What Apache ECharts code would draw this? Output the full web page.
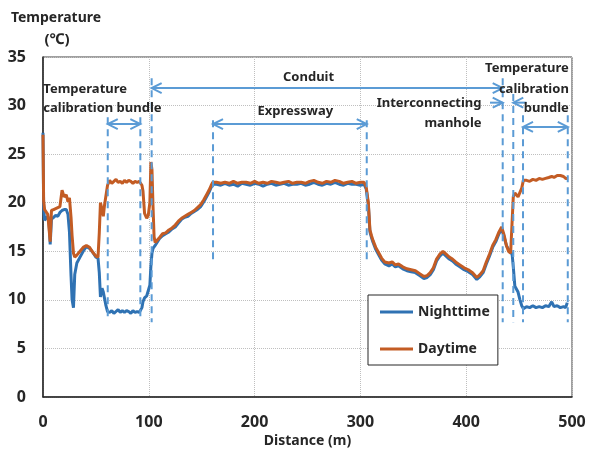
<!DOCTYPE html>
<html><head><meta charset="utf-8">
<script src="https://cdn.jsdelivr.net/npm/echarts@6/dist/echarts.min.js"></script>
<style>html,body{margin:0;padding:0;background:#fff}#c{width:589px;height:452px}</style>
</head><body><div id="c"></div><script>
// ---- data ----
const distance = [
  0, 0.6, 1.5, 3, 4.5, 5.5, 6.8, 8, 10, 12, 14, 16, 18, 20, 22, 23.6, 25, 26.5, 27.5, 28.8, 30, 32, 35, 38, 41, 44, 47, 50, 52, 53.2, 54.3, 55.8, 57, 58.2, 59.5, 61,
  63, 65, 67, 69, 71, 73, 75, 77, 79, 81, 83, 85, 87, 89, 91, 92.5,
  93.5, 94.5, 96, 98, 99.5, 101, 102, 103, 104, 105, 106, 107.5, 110,
  113, 116, 119, 122, 125, 128, 131, 134, 137, 140, 143, 146, 149, 152, 155, 157, 159, 160.5,
  164, 168, 172, 176, 180, 184, 188, 192, 196, 200, 204, 208, 212, 216, 220, 224, 228, 232, 236, 240, 244, 248, 252, 256, 260, 264, 268, 272, 276, 280, 284, 288, 292, 296, 300, 303.5,
  305.5, 307.5, 309, 310.5, 312, 314.5, 317, 320, 323, 327, 330, 333, 336, 340, 344, 348, 352, 356, 360, 363, 366, 369, 372, 375, 378, 381, 384, 387, 390, 394, 398, 402, 406, 410, 413, 416, 419, 422, 425, 428, 431, 433.5, 436, 438, 440, 442, 443.5,
  444.5, 446, 447.5, 449, 450.8, 452.5, 454, 457, 460, 463, 466, 469, 472, 475, 478, 480.8, 483, 486, 489, 492, 494, 495.5
];
const nighttime = [
  27.2, 19.5, 18.2, 18.4, 18.6, 18.3, 15.7, 18.3, 18.5, 18.7, 18.6, 19.0, 19.2, 19.3, 19.3, 18.8, 17.0, 12.5, 10.0, 9.2, 12.6, 13.8, 14.4, 15.0, 15.5, 15.3, 14.9, 14.4, 14.3, 12.8, 10.3, 11.2, 10.8, 10.9, 9.4, 8.8,
  8.7, 8.9, 8.6, 8.8, 9.0, 8.7, 8.9, 8.7, 8.9, 8.8, 8.6, 8.9, 8.7, 8.8, 8.7, 8.6,
  9.2, 9.8, 10.2, 10.4, 10.6, 11.5, 13.5, 14.8, 15.3, 15.5, 15.6, 15.8, 16.3,
  16.6, 16.8, 17.0, 17.3, 17.5, 17.9, 18.3, 18.5, 18.6, 18.9, 19.1, 19.3, 19.6, 20.1, 20.7, 21.1, 21.6, 21.9,
  21.9, 21.8, 22.0, 21.8, 21.9, 21.7, 22.0, 21.9, 21.8, 22.0, 21.9, 21.7, 21.9, 22.0, 21.8, 21.9, 22.0, 21.8, 21.9, 21.9, 22.0, 21.8, 21.9, 22.1, 21.9, 21.8, 22.0, 21.9, 22.1, 21.9, 21.8, 22.0, 21.9, 21.9, 21.8, 21.9,
  21.4, 19.8, 17.0, 16.4, 15.9, 15.2, 14.7, 14.1, 13.7, 13.5, 13.7, 13.4, 13.5, 13.2, 13.0, 12.9, 12.8, 12.5, 12.2, 12.3, 12.6, 13.1, 14.0, 14.5, 14.8, 14.5, 14.2, 14.0, 13.7, 13.4, 13.1, 12.9, 12.6, 12.1, 12.4, 12.8, 13.7, 14.5, 15.4, 16.0, 16.8, 17.3, 16.4, 15.6, 15.2, 15.0, 14.6,
  13.4, 11.4, 11.2, 10.8, 10.0, 9.4, 9.1, 9.3, 9.2, 9.4, 9.2, 9.3, 9.2, 9.4, 9.3, 9.8, 9.3, 9.4, 9.2, 9.3, 9.2, 9.7
];
const daytime = [
  27.0, 20.2, 19.3, 19.4, 18.8, 18.6, 16.0, 19.2, 19.3, 19.4, 19.5, 19.6, 21.3, 20.6, 20.8, 20.1, 20.5, 18.5, 16.6, 14.8, 14.4, 14.6, 15.0, 15.4, 15.6, 15.4, 14.9, 14.5, 14.4, 16.9, 20.0, 19.3, 18.6, 19.8, 19.6, 21.8,
  22.3, 22.0, 22.2, 22.4, 22.1, 22.2, 22.0, 22.3, 22.1, 22.3, 22.2, 22.0, 22.2, 22.1, 22.2, 22.1,
  21.8, 21.2, 18.9, 18.4, 18.7, 20.0, 24.2, 23.4, 19.6, 16.5, 15.9, 15.8, 16.4,
  16.8, 16.9, 17.2, 17.4, 17.7, 18.1, 18.4, 18.6, 18.8, 19.0, 19.2, 19.5, 19.8, 20.3, 20.9, 21.3, 21.8, 22.1,
  22.1, 22.0, 22.1, 22.0, 22.2, 22.0, 22.1, 22.1, 22.0, 22.2, 22.0, 22.1, 22.0, 22.2, 22.1, 22.0, 22.1, 22.2, 22.0, 22.1, 22.1, 22.0, 22.2, 22.3, 22.1, 22.0, 22.2, 22.1, 22.3, 22.2, 22.0, 22.1, 22.2, 22.0, 22.1, 22.1,
  21.6, 20.0, 17.2, 16.6, 16.1, 15.4, 14.9, 14.3, 13.9, 13.8, 13.9, 13.6, 13.7, 13.4, 13.2, 13.1, 13.0, 12.7, 12.4, 12.5, 12.8, 13.3, 14.2, 14.7, 15.0, 14.7, 14.4, 14.2, 13.9, 13.6, 13.3, 13.1, 12.8, 12.3, 12.6, 13.0, 13.9, 14.7, 15.6, 16.2, 17.0, 17.5, 16.6, 15.6, 15.0, 14.8, 14.8,
  20.6, 21.0, 20.8, 20.6, 20.5, 21.5, 22.3, 22.3, 22.2, 22.4, 22.3, 22.5, 22.4, 22.5, 22.6, 22.7, 22.6, 22.8, 22.8, 22.7, 22.5, 22.5
];
const seriesNames = ['Nighttime', 'Daytime'];
const xAxisTitle = 'Distance (m)';
const yAxisTitle = ['Temperature', '(℃)'];

// annotation geometry in data units: [x, yTop, yBottom]
const guideLines = [
  [61.2, 28.8, 8.1], [92, 28.8, 8.1], [102.7, 32.8, 7.7],
  [160.7, 28.5, 13.9], [306, 28.5, 13.9],
  [434.5, 32.8, 7.7], [444.5, 31.2, 7.7], [453.7, 29.0, 7.7], [496, 29.0, 7.7]
];
// [x1, x2, y, heads]  heads: 'both' | 'right' | 'left'
const arrows = [
  [61.2, 92, 28.1, 'both'],
  [102.7, 434.5, 31.8, 'both'],
  [160.7, 306, 28.1, 'both'],
  [422.5, 434.5, 30.3, 'right'],
  [444.5, 457, 30.3, 'left'],
  [453.7, 496, 27.8, 'both']
];
// [text, x, y, align]
const notes = [
  ['Temperature', 0.3, 31.7, 'left'],
  ['calibration bundle', 0.3, 29.7, 'left'],
  ['Conduit', 251, 32.9, 'center'],
  ['Expressway', 238.5, 29.4, 'center'],
  ['Interconnecting', 414.5, 30.2, 'right'],
  ['manhole', 414.5, 28.2, 'right'],
  ['Temperature', 497, 33.8, 'right'],
  ['calibration', 497, 31.7, 'right'],
  ['bundle', 497, 29.7, 'right']
];

const BLUE = '#2F72B3', ORANGE = '#C35C24', ANN = '#5B9BD5', TXT = '#262626';
const FONT = '"Noto Sans", "DejaVu Sans", sans-serif';

const chart = echarts.init(document.getElementById('c'), null, {renderer: 'canvas'});
const pairs = arr => distance.map((d, i) => [d, arr[i]]);

chart.setOption({
  animation: false,
  backgroundColor: '#fff',
  grid: {left: 43, top: 57, width: 529, height: 340, show: true, borderColor: '#404040', borderWidth: 1, containLabel: false},
  xAxis: {
    type: 'value', min: 0, max: 500, interval: 100,
    axisLine: {show: true, lineStyle: {color: '#262626', width: 1.5}},
    axisTick: {show: false},
    axisLabel: {margin: 17, color: TXT, fontFamily: FONT, fontWeight: 'bold', fontSize: 16},
    splitLine: {show: true, lineStyle: {type: 'dotted', color: '#BFBFBF', width: 1}}
  },
  yAxis: {
    type: 'value', min: 0, max: 35, interval: 5,
    axisLine: {show: true, lineStyle: {color: '#262626', width: 1.5}},
    axisTick: {show: false},
    axisLabel: {margin: 17, color: TXT, fontFamily: FONT, fontWeight: 'bold', fontSize: 16},
    splitLine: {show: true, lineStyle: {type: 'dotted', color: '#BFBFBF', width: 1}}
  },
  legend: {
    data: seriesNames, orient: 'vertical', left: 368, top: 295,
    padding: [10, 8, 9, 12], itemGap: 23, itemWidth: 33, itemHeight: 3, icon: 'rect',
    backgroundColor: '#fff', borderColor: '#262626', borderWidth: 1, borderRadius: 0,
    textStyle: {color: TXT, fontFamily: FONT, fontWeight: 'bold', fontSize: 14}
  },
  series: [
    {name: seriesNames[0], type: 'line', data: pairs(nighttime), showSymbol: false, symbol: 'none', lineStyle: {color: BLUE, width: 3}, itemStyle: {color: BLUE}, z: 2},
    {name: seriesNames[1], type: 'line', data: pairs(daytime), showSymbol: false, symbol: 'none', lineStyle: {color: ORANGE, width: 3}, itemStyle: {color: ORANGE}, z: 3}
  ]
});

function px(x, y) { return chart.convertToPixel({gridIndex: 0}, [x, y]); }
const g = [];
guideLines.forEach(([x, y1, y2]) => {
  const a = px(x, y1), b = px(x, y2);
  g.push({type: 'line', shape: {x1: a[0], y1: a[1], x2: b[0], y2: b[1]}, style: {stroke: ANN, lineWidth: 2, lineDash: [7, 5]}, z: 10});
});
function chevron(tx, ty, dir) {
  return {type: 'polyline', shape: {points: [[tx - dir * 10, ty - 5], [tx, ty], [tx - dir * 10, ty + 5]]}, style: {stroke: ANN, lineWidth: 2, fill: null}, z: 11};
}
arrows.forEach(([x1, x2, y, heads]) => {
  const a = px(x1, y), b = px(x2, y);
  g.push({type: 'line', shape: {x1: a[0], y1: a[1], x2: b[0], y2: b[1]}, style: {stroke: ANN, lineWidth: 2}, z: 11});
  if (heads === 'both' || heads === 'left') g.push(chevron(a[0], a[1], -1));
  if (heads === 'both' || heads === 'right') g.push(chevron(b[0], b[1], 1));
});
notes.forEach(([t, x, y, al]) => {
  const p = px(x, y);
  g.push({type: 'text', x: p[0], y: p[1], style: {text: t, align: al, verticalAlign: 'middle', fill: TXT, font: 'bold 13px ' + FONT}, z: 12});
});
// axis titles
g.push({type: 'text', x: 56, y: 18, style: {text: yAxisTitle[0], align: 'center', verticalAlign: 'middle', fill: TXT, font: 'bold 14px ' + FONT}});
g.push({type: 'text', x: 57, y: 40, style: {text: yAxisTitle[1], align: 'center', verticalAlign: 'middle', fill: TXT, font: 'bold 15px ' + FONT}});
const xc = px(250, 0);
g.push({type: 'text', x: xc[0], y: 441, style: {text: xAxisTitle, align: 'center', verticalAlign: 'middle', fill: TXT, font: 'bold 14px ' + FONT}});
chart.setOption({graphic: g});
</script></body></html>
